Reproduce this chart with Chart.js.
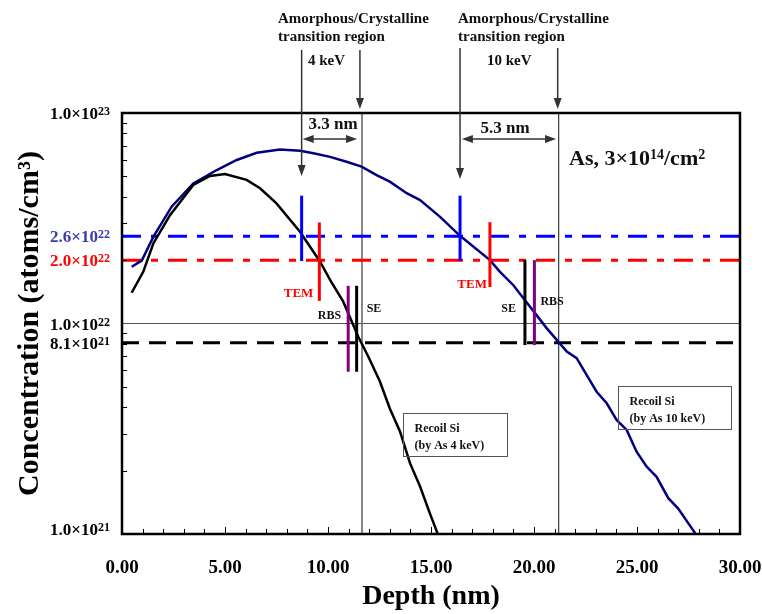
<!DOCTYPE html>
<html>
<head>
<meta charset="utf-8">
<script src="https://cdn.jsdelivr.net/npm/chart.js@4.4.1/dist/chart.umd.min.js"></script>
<style>
  html, body { margin: 0; padding: 0; background: #fff; }
</style>
</head>
<body>
<canvas id="chart" width="762" height="614"></canvas>
<script>
// recoil Si profile, As 4 keV (depth nm, atoms/cm3)
const depth4 = [0.47, 1.03, 1.52, 2.33, 3.46, 4.27, 5.00, 6.05, 6.70, 7.50, 8.64, 9.61, 10.10, 10.74, 11.47, 11.96, 12.52, 13.00, 13.50, 13.98, 14.47, 14.95, 15.28, 15.45]
const conc4 = [1.40e22, 1.76e22, 2.40e22, 3.27e22, 4.55e22, 5.02e22, 5.13e22, 4.81e22, 4.39e22, 3.72e22, 2.73e22, 1.97e22, 1.61e22, 1.27e22, 8.65e21, 6.95e21, 5.30e21, 3.95e21, 3.06e21, 2.17e21, 1.68e21, 1.25e21, 1.03e21, 9.1e20]

// recoil Si profile, As 10 keV
const depth10 = [0.47, 0.96, 1.52, 2.41, 3.46, 4.60, 5.57, 6.54, 7.67, 8.64, 9.29, 10.10, 10.90, 11.63, 12.36, 13.00, 13.82, 14.47, 15.44, 16.41, 17.86, 18.35, 19.00, 19.56, 20.05, 20.62, 21.18, 21.59, 22.07, 22.56, 23.04, 23.53, 24.01, 24.50, 24.98, 25.47, 25.95, 26.52, 27.00, 27.82, 28.30]
const conc10 = [1.86e22, 1.99e22, 2.58e22, 3.59e22, 4.63e22, 5.36e22, 5.98e22, 6.47e22, 6.71e22, 6.62e22, 6.44e22, 6.19e22, 5.87e22, 5.56e22, 5.07e22, 4.72e22, 4.16e22, 3.86e22, 3.21e22, 2.61e22, 2.00e22, 1.76e22, 1.52e22, 1.29e22, 1.12e22, 9.48e21, 8.20e21, 7.35e21, 6.84e21, 5.69e21, 4.74e21, 4.18e21, 3.48e21, 3.12e21, 2.46e21, 2.09e21, 1.87e21, 1.48e21, 1.32e21, 1.01e21, 8.5e20]

// threshold levels: 2.6e22 (blue), 2.0e22 (red), 8.1e21 (black)
const thresholdConc = [2.6e22, 2.0e22, 8.1e21]
const refConc = 1e22

// amorphous/crystalline boundary depths (4 keV, 10 keV)
const boundaryDepth = [11.65, 21.2]

// measured interface markers: TEM at 2.6e22, TEM at 2.0e22, RBS, SE
const markerDepth4 = [8.72, 9.58, 10.98, 11.39]
const markerDepth10 = [16.41, 17.86, 20.02, 19.56]
const markerLow4 = [1.98e22, 1.28e22, 5.9e21, 5.9e21]
const markerHigh4 = [4.05e22, 3.02e22, 1.51e22, 1.51e22]
const markerLow10 = [1.98e22, 1.49e22, 7.9e21, 7.9e21]
const markerHigh10 = [4.05e22, 3.03e22, 2.0e22, 2.0e22]

// y tick labels
const yTickValues = [1e23, 2.6e22, 2.0e22, 1e22, 8.1e21, 1e21]
const yTickMant = ['1.0', '2.6', '2.0', '1.0', '8.1', '1.0']
const yTickExp = ['23', '22', '22', '22', '21', '21']

const xTickStep = 5

const SERIF = '"Liberation Serif", "Times New Roman", serif'
const bold = s => `bold ${s}px ${SERIF}`
const markerColors = ['#0000ff', '#ff0000', '#800080', '#000000']
const thresholdColors = ['#0000ff', '#ff0000', '#000000']
const thresholdDash = [[19, 10, 7, 10], [19, 10, 7, 10], [17, 10]]
const yTickColors = ['#000', '#3a3aa8', '#ff0000', '#000', '#000', '#000']

const pts = (xs, ys) => xs.map((x, i) => ({ x, y: ys[i] }))
const seg = (color, width, data, dash) => ({
  data, borderColor: color, borderWidth: width, borderDash: dash || [],
  pointRadius: 0, fill: false, tension: 0
})

const datasets = []
markerDepth4.forEach((d, i) => datasets.push(seg(markerColors[i], 3, [{ x: d, y: markerLow4[i] }, { x: d, y: markerHigh4[i] }])))
markerDepth10.forEach((d, i) => datasets.push(seg(markerColors[i], 3, [{ x: d, y: markerLow10[i] }, { x: d, y: markerHigh10[i] }])))
datasets.push(seg('#000000', 2.5, pts(depth4, conc4)))
datasets.push(seg('#000080', 2.5, pts(depth10, conc10)))
thresholdConc.forEach((c, i) => datasets.push(seg(thresholdColors[i], 3, [{ x: 0, y: c }, { x: 30, y: c }], thresholdDash[i])))
datasets.push(seg('#555', 1, [{ x: 0, y: refConc }, { x: 30, y: refConc }]))
boundaryDepth.forEach(d => datasets.push(seg('#111', 1, [{ x: d, y: 1e21 }, { x: d, y: 1e23 }])))

function rich(ctx, parts, x, y, align) {
  let w = 0
  for (const [t, s] of parts) { ctx.font = bold(s); w += ctx.measureText(t).width }
  let cx = align === 'right' ? x - w : align === 'center' ? x - w / 2 : x
  ctx.textAlign = 'left'
  ctx.textBaseline = 'alphabetic'
  for (const [t, s, dy] of parts) {
    ctx.font = bold(s)
    ctx.fillText(t, cx, y + (dy || 0))
    cx += ctx.measureText(t).width
  }
}

function head(ctx, x, y, dir) {
  ctx.beginPath()
  if (dir === 'down') { ctx.moveTo(x, y); ctx.lineTo(x - 4, y - 11); ctx.lineTo(x + 4, y - 11) }
  if (dir === 'left') { ctx.moveTo(x, y); ctx.lineTo(x + 11, y - 4); ctx.lineTo(x + 11, y + 4) }
  if (dir === 'right') { ctx.moveTo(x, y); ctx.lineTo(x - 11, y - 4); ctx.lineTo(x - 11, y + 4) }
  ctx.closePath()
  ctx.fill()
}

const annot = {
  id: 'annot',
  afterDraw(chart) {
    const { ctx, chartArea: a } = chart
    const X = v => chart.scales.x.getPixelForValue(v)
    const Y = v => chart.scales.y.getPixelForValue(v)
    ctx.save()

    // frame and inward ticks
    ctx.strokeStyle = '#000'
    ctx.lineWidth = 2.5
    ctx.strokeRect(a.left, a.top, a.right - a.left, a.bottom - a.top)
    ctx.lineWidth = 1
    ctx.beginPath()
    for (let d = 1; d < 30; d++) {
      const px = Math.round(X(d)) + 0.5
      ctx.moveTo(px, a.bottom)
      ctx.lineTo(px, a.bottom - (d % xTickStep ? 5 : 7))
    }
    for (let e = 21; e < 23; e++) {
      for (let m = 2; m <= 9; m++) {
        const py = Math.round(Y(m * Math.pow(10, e))) + 0.5
        ctx.moveTo(a.left, py)
        ctx.lineTo(a.left + 5, py)
      }
    }
    ctx.stroke()

    // y labels with superscript exponents
    yTickValues.forEach((v, i) => {
      let py = Y(v)
      if (v === 1e21) py -= 5
      ctx.fillStyle = yTickColors[i]
      rich(ctx, [[yTickMant[i] + '×10', 17, 0], [yTickExp[i], 12, -4]], a.left - 12, py + 6, 'right')
    })

    // headers above the plot
    ctx.fillStyle = '#111'
    rich(ctx, [['Amorphous/Crystalline', 15]], 278, 23, 'left')
    rich(ctx, [['transition region', 15]], 278, 41, 'left')
    rich(ctx, [['4 keV', 15]], 308, 65, 'left')
    rich(ctx, [['Amorphous/Crystalline', 15]], 458, 23, 'left')
    rich(ctx, [['transition region', 15]], 458, 41, 'left')
    rich(ctx, [['10 keV', 15]], 487, 65, 'left')

    // vertical arrows
    ctx.strokeStyle = '#333'
    ctx.fillStyle = '#333'
    ctx.lineWidth = 1.5
    const vArrow = (x, y0, y1) => {
      ctx.beginPath(); ctx.moveTo(x, y0); ctx.lineTo(x, y1 - 6); ctx.stroke()
      head(ctx, x, y1, 'down')
    }
    vArrow(X(markerDepth4[0]), 50, a.top + 63)
    vArrow(X(11.55), 50, a.top - 4)
    vArrow(X(markerDepth10[0]), 48, a.top + 66)
    vArrow(X(21.15), 48, a.top - 4)

    // width arrows
    const hArrow = (x0, x1, y) => {
      ctx.beginPath(); ctx.moveTo(x0 + 6, y); ctx.lineTo(x1 - 6, y); ctx.stroke()
      head(ctx, x0, y, 'left')
      head(ctx, x1, y, 'right')
    }
    const yw = a.top + 26
    hArrow(X(8.77), X(11.41), yw)
    hArrow(X(16.5), X(21.07), yw)
    ctx.fillStyle = '#111'
    rich(ctx, [['3.3 nm', 17]], X(10.25), a.top + 16, 'center')
    rich(ctx, [['5.3 nm', 17]], X(18.6), a.top + 20, 'center')

    // dose label
    rich(ctx, [['As, 3×10', 22, 0], ['14', 14, -6], ['/cm', 22, 0], ['2', 14, -6]], X(21.7), a.top + 52, 'left')

    // marker labels
    ctx.fillStyle = '#ff0000'
    rich(ctx, [['TEM', 13]], X(markerDepth4[1]) - 6, Y(1.41e22) + 5, 'right')
    rich(ctx, [['TEM', 13]], X(markerDepth10[1]) - 3, Y(1.56e22) + 5, 'right')
    ctx.fillStyle = '#111'
    rich(ctx, [['RBS', 12]], X(markerDepth4[2]) - 7, Y(1.11e22) + 5, 'right')
    rich(ctx, [['SE', 12]], X(markerDepth4[3]) + 10, Y(1.2e22) + 5, 'left')
    rich(ctx, [['SE', 12]], X(markerDepth10[3]) - 9, Y(1.2e22) + 5, 'right')
    rich(ctx, [['RBS', 12]], X(markerDepth10[2]) + 6, Y(1.29e22) + 5, 'left')

    // profile boxes
    ctx.strokeStyle = '#555'
    ctx.lineWidth = 1
    const box = (d0, d1, c0, c1, l1, l2) => {
      const x0 = Math.round(X(d0)) + 0.5, x1 = Math.round(X(d1)) + 0.5
      const y0 = Math.round(Y(c0)) + 0.5, y1 = Math.round(Y(c1)) + 0.5
      ctx.strokeRect(x0, y0, x1 - x0, y1 - y0)
      rich(ctx, [[l1, 12]], x0 + 11, y0 + 18, 'left')
      rich(ctx, [[l2, 12]], x0 + 11, y0 + 35, 'left')
    }
    box(13.63, 18.71, 3.74e21, 2.34e21, 'Recoil Si', '(by As 4 keV)')
    box(24.09, 29.55, 5.03e21, 3.17e21, 'Recoil Si', '(by As 10 keV)')

    ctx.restore()
  }
}

new Chart(document.getElementById('chart'), {
  type: 'line',
  data: { datasets },
  plugins: [annot],
  options: {
    responsive: false,
    animation: false,
    events: [],
    layout: { padding: { top: 113, right: 22, left: 0, bottom: 0 } },
    plugins: { legend: { display: false }, tooltip: { enabled: false } },
    scales: {
      x: {
        type: 'linear',
        min: 0,
        max: 30,
        afterFit: s => { s.height = 80; s.paddingLeft = 0; s.paddingRight = 0 },
        grid: { display: false, drawTicks: false },
        border: { display: false },
        ticks: {
          stepSize: xTickStep,
          autoSkip: false,
          maxRotation: 0,
          padding: 23,
          color: '#000',
          font: { family: SERIF, size: 19, weight: 'bold' },
          callback: v => Number(v).toFixed(2)
        },
        title: {
          display: true,
          text: 'Depth (nm)',
          color: '#000',
          padding: 0,
          font: { family: SERIF, size: 28, weight: 'bold' }
        }
      },
      y: {
        type: 'logarithmic',
        min: 1e21,
        max: 1e23,
        afterFit: s => { s.width = 122; s.paddingTop = 0; s.paddingBottom = 0 },
        grid: { display: false, drawTicks: false },
        border: { display: false },
        ticks: { display: false },
        title: {
          display: true,
          text: 'Concentration (atoms/cm³)',
          color: '#000',
          padding: { top: 12, bottom: 0 },
          font: { family: SERIF, size: 30, weight: 'bold' }
        }
      }
    }
  }
})
</script>
</body>
</html>
